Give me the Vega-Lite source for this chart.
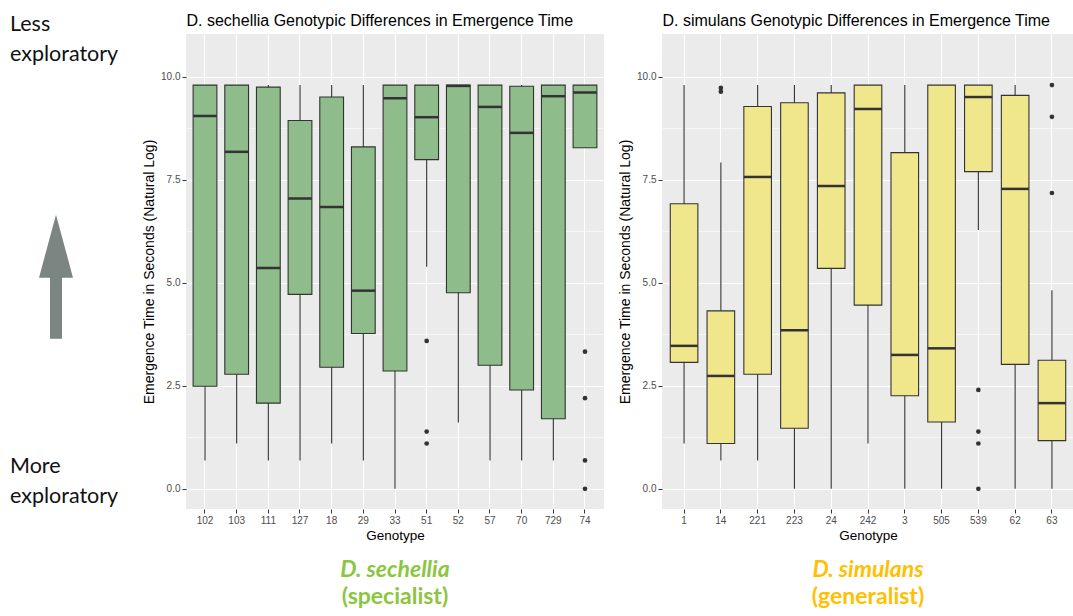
{
  "$schema": "https://vega.github.io/schema/vega-lite/v6.json",
  "background": "white",
  "padding": {"top": 12, "left": 0, "right": 0, "bottom": 0},
  "spacing": 14,
  "config": {
    "font": "Liberation Sans",
    "axis": {"labelFont": "Liberation Sans", "titleFont": "Liberation Sans"}
  },
  "datasets": {
    "sech_box": [
      {"genotype": "102", "lower": 0.69, "q1": 2.49, "median": 9.05, "q3": 9.8, "upper": 9.8},
      {"genotype": "103", "lower": 1.10, "q1": 2.78, "median": 8.18, "q3": 9.8, "upper": 9.8},
      {"genotype": "111", "lower": 0.69, "q1": 2.08, "median": 5.36, "q3": 9.75, "upper": 9.8},
      {"genotype": "127", "lower": 0.69, "q1": 4.72, "median": 7.05, "q3": 8.94, "upper": 9.8},
      {"genotype": "18", "lower": 1.10, "q1": 2.95, "median": 6.84, "q3": 9.51, "upper": 9.8},
      {"genotype": "29", "lower": 0.69, "q1": 3.77, "median": 4.81, "q3": 8.30, "upper": 9.8},
      {"genotype": "33", "lower": 0.0, "q1": 2.86, "median": 9.48, "q3": 9.8, "upper": 9.8},
      {"genotype": "51", "lower": 5.39, "q1": 7.99, "median": 9.02, "q3": 9.8, "upper": 9.8},
      {"genotype": "52", "lower": 1.61, "q1": 4.76, "median": 9.78, "q3": 9.8, "upper": 9.8},
      {"genotype": "57", "lower": 0.69, "q1": 3.00, "median": 9.27, "q3": 9.8, "upper": 9.8},
      {"genotype": "70", "lower": 0.69, "q1": 2.40, "median": 8.64, "q3": 9.77, "upper": 9.8},
      {"genotype": "729", "lower": 0.69, "q1": 1.70, "median": 9.53, "q3": 9.8, "upper": 9.8},
      {"genotype": "74", "lower": 8.28, "q1": 8.28, "median": 9.62, "q3": 9.8, "upper": 9.8}
    ],
    "sech_out": [
      {"genotype": "51", "value": 3.59},
      {"genotype": "51", "value": 1.39},
      {"genotype": "51", "value": 1.10},
      {"genotype": "74", "value": 3.33},
      {"genotype": "74", "value": 2.20},
      {"genotype": "74", "value": 0.69},
      {"genotype": "74", "value": 0.0}
    ],
    "sim_box": [
      {"genotype": "1", "lower": 1.10, "q1": 3.07, "median": 3.47, "q3": 6.92, "upper": 9.8},
      {"genotype": "14", "lower": 0.69, "q1": 1.10, "median": 2.74, "q3": 4.32, "upper": 7.92},
      {"genotype": "221", "lower": 0.69, "q1": 2.78, "median": 7.57, "q3": 9.28, "upper": 9.8},
      {"genotype": "223", "lower": 0.0, "q1": 1.47, "median": 3.85, "q3": 9.37, "upper": 9.8},
      {"genotype": "24", "lower": 0.0, "q1": 5.35, "median": 7.35, "q3": 9.61, "upper": 9.8},
      {"genotype": "242", "lower": 1.10, "q1": 4.46, "median": 9.22, "q3": 9.8, "upper": 9.8},
      {"genotype": "3", "lower": 0.0, "q1": 2.26, "median": 3.25, "q3": 8.16, "upper": 9.8},
      {"genotype": "505", "lower": 0.0, "q1": 1.62, "median": 3.41, "q3": 9.8, "upper": 9.8},
      {"genotype": "539", "lower": 6.28, "q1": 7.70, "median": 9.51, "q3": 9.8, "upper": 9.8},
      {"genotype": "62", "lower": 0.0, "q1": 3.02, "median": 7.28, "q3": 9.55, "upper": 9.8},
      {"genotype": "63", "lower": 0.0, "q1": 1.17, "median": 2.08, "q3": 3.12, "upper": 4.82}
    ],
    "sim_out": [
      {"genotype": "14", "value": 9.73},
      {"genotype": "14", "value": 9.64},
      {"genotype": "539", "value": 2.40},
      {"genotype": "539", "value": 1.39},
      {"genotype": "539", "value": 1.10},
      {"genotype": "539", "value": 0.0},
      {"genotype": "63", "value": 9.8},
      {"genotype": "63", "value": 9.03},
      {"genotype": "63", "value": 7.18}
    ],
    "annot_text": [
      {"label": "Less\nexploratory", "time": 11.26},
      {"label": "More\nexploratory", "time": 0.53}
    ],
    "annot_arrow": [
      {"direction": "less exploratory", "time": 5.15}
    ]
  },
  "hconcat": [
    {
      "width": 128,
      "height": 475,
      "view": {"stroke": null, "fill": null},
      "layer": [
        {
          "data": {"name": "annot_text"},
          "mark": {"type": "text", "align": "left", "baseline": "middle", "dx": -54, "font": "Lato", "fontSize": 21.5, "lineBreak": "\n", "lineHeight": 30, "color": "#111111"},
          "encoding": {
            "y": {"field": "time", "type": "quantitative", "scale": {"domain": [-0.49, 11.04], "nice": false, "zero": false}, "axis": null},
            "text": {"field": "label"}
          }
        },
        {
          "data": {"name": "annot_arrow"},
          "mark": {"type": "point", "filled": true, "shape": "M0,-1L0.274,0.016L0.097,0.016L0.097,1L-0.097,1L-0.097,0.016L-0.274,0.016Z", "size": 15376, "color": "#7b8581", "opacity": 1, "xOffset": -8},
          "encoding": {
            "y": {"field": "time", "type": "quantitative", "axis": null}
          }
        }
      ]
    },
    {
      "width": 418,
      "height": 475,
      "view": {"fill": "#ebebeb", "stroke": null},
      "title": {"text": "D. sechellia", "subtitle": "(specialist)", "orient": "bottom", "anchor": "middle", "frame": "group", "font": "Lato", "fontSize": 23, "fontStyle": "italic", "fontWeight": "bold", "color": "#8cc63f", "subtitleFont": "Lato", "subtitleFontSize": 23, "subtitleFontWeight": "bold", "subtitleColor": "#8cc63f", "subtitlePadding": 4, "offset": 17},
      "resolve": {"axis": {"x": "independent"}},
      "layer": [
        {
          "data": {"name": "sech_box"},
          "mark": {"type": "rule", "color": "#333333", "strokeWidth": 1.1},
          "encoding": {
            "x": {"field": "genotype", "type": "nominal", "scale": {"domain": ["102","103","111","127","18","29","33","51","52","57","70","729","74"], "paddingInner": 0, "paddingOuter": 0.1},
              "axis": {"orient": "bottom", "title": "Genotype", "labelAngle": 0, "domain": false, "grid": true, "gridColor": "white", "gridWidth": 1.1, "tickBand": "center", "tickColor": "#333333", "tickSize": 4, "labelColor": "#4d4d4d", "labelFontSize": 10, "labelPadding": 2, "titleFontSize": 13.5, "titleColor": "#000000", "titleFontWeight": "normal", "titlePadding": 3}},
            "y": {"field": "lower", "type": "quantitative", "title": "Emergence Time in Seconds (Natural Log)", "scale": {"domain": [-0.49, 11.04], "nice": false, "zero": false},
              "axis": {"values": [0, 1.25, 2.5, 3.75, 5, 6.25, 7.5, 8.75, 10], "labelExpr": "datum.value % 2.5 === 0 ? format(datum.value, '.1f') : ''", "labelOverlap": false, "labelFlush": false, "domain": false, "grid": true, "gridColor": "white", "gridWidth": {"condition": {"test": "datum.value % 2.5 !== 0", "value": 0.55}, "value": 1.1}, "tickColor": "#333333", "tickSize": 4, "tickOpacity": {"condition": {"test": "datum.value % 2.5 !== 0", "value": 0}, "value": 1}, "labelColor": "#4d4d4d", "labelFontSize": 10, "labelPadding": 2, "titleFontSize": 14, "titleColor": "#000000", "titleFontWeight": "normal", "titlePadding": 4}},
            "y2": {"field": "upper"}
          }
        },
        {
          "data": {"name": "sech_out"},
          "mark": {"type": "point", "filled": true, "color": "#333333", "size": 22, "opacity": 1},
          "encoding": {
            "x": {"field": "genotype", "type": "nominal", "axis": {"orient": "top", "title": "D. sechellia Genotypic Differences in Emergence Time", "labels": false, "ticks": false, "domain": false, "grid": false, "titleAnchor": "start", "titleFontSize": 16, "titleFontWeight": "normal", "titleColor": "#000000", "titlePadding": 6}},
            "y": {"field": "value", "type": "quantitative", "title": "Emergence Time in Seconds (Natural Log)"}
          }
        },
        {
          "data": {"name": "sech_box"},
          "mark": {"type": "bar", "width": {"band": 0.75}, "fill": "#8fbc8b", "stroke": "#333333", "strokeWidth": 1.1},
          "encoding": {
            "x": {"field": "genotype", "type": "nominal", "axis": null},
            "y": {"field": "q1", "type": "quantitative", "title": "Emergence Time in Seconds (Natural Log)"},
            "y2": {"field": "q3"}
          }
        },
        {
          "data": {"name": "sech_box"},
          "mark": {"type": "tick", "color": "#333333", "size": 23.7, "thickness": 2.5, "opacity": 1},
          "encoding": {
            "x": {"field": "genotype", "type": "nominal", "axis": null},
            "y": {"field": "median", "type": "quantitative", "title": "Emergence Time in Seconds (Natural Log)"}
          }
        }
      ]
    },
    {
      "width": 412,
      "height": 475,
      "view": {"fill": "#ebebeb", "stroke": null},
      "title": {"text": "D. simulans", "subtitle": "(generalist)", "orient": "bottom", "anchor": "middle", "frame": "group", "font": "Lato", "fontSize": 23, "fontStyle": "italic", "fontWeight": "bold", "color": "#ffc000", "subtitleFont": "Lato", "subtitleFontSize": 23, "subtitleFontWeight": "bold", "subtitleColor": "#ffc000", "subtitlePadding": 4, "offset": 17},
      "resolve": {"axis": {"x": "independent"}},
      "layer": [
        {
          "data": {"name": "sim_box"},
          "mark": {"type": "rule", "color": "#333333", "strokeWidth": 1.1},
          "encoding": {
            "x": {"field": "genotype", "type": "nominal", "scale": {"domain": ["1","14","221","223","24","242","3","505","539","62","63"], "paddingInner": 0, "paddingOuter": 0.1},
              "axis": {"orient": "bottom", "title": "Genotype", "labelAngle": 0, "domain": false, "grid": true, "gridColor": "white", "gridWidth": 1.1, "tickBand": "center", "tickColor": "#333333", "tickSize": 4, "labelColor": "#4d4d4d", "labelFontSize": 10, "labelPadding": 2, "titleFontSize": 13.5, "titleColor": "#000000", "titleFontWeight": "normal", "titlePadding": 3}},
            "y": {"field": "lower", "type": "quantitative", "title": "Emergence Time in Seconds (Natural Log)", "scale": {"domain": [-0.49, 11.04], "nice": false, "zero": false},
              "axis": {"values": [0, 1.25, 2.5, 3.75, 5, 6.25, 7.5, 8.75, 10], "labelExpr": "datum.value % 2.5 === 0 ? format(datum.value, '.1f') : ''", "labelOverlap": false, "labelFlush": false, "domain": false, "grid": true, "gridColor": "white", "gridWidth": {"condition": {"test": "datum.value % 2.5 !== 0", "value": 0.55}, "value": 1.1}, "tickColor": "#333333", "tickSize": 4, "tickOpacity": {"condition": {"test": "datum.value % 2.5 !== 0", "value": 0}, "value": 1}, "labelColor": "#4d4d4d", "labelFontSize": 10, "labelPadding": 2, "titleFontSize": 14, "titleColor": "#000000", "titleFontWeight": "normal", "titlePadding": 4}},
            "y2": {"field": "upper"}
          }
        },
        {
          "data": {"name": "sim_out"},
          "mark": {"type": "point", "filled": true, "color": "#333333", "size": 22, "opacity": 1},
          "encoding": {
            "x": {"field": "genotype", "type": "nominal", "axis": {"orient": "top", "title": "D. simulans Genotypic Differences in Emergence Time", "labels": false, "ticks": false, "domain": false, "grid": false, "titleAnchor": "start", "titleFontSize": 16, "titleFontWeight": "normal", "titleColor": "#000000", "titlePadding": 6}},
            "y": {"field": "value", "type": "quantitative", "title": "Emergence Time in Seconds (Natural Log)"}
          }
        },
        {
          "data": {"name": "sim_box"},
          "mark": {"type": "bar", "width": {"band": 0.75}, "fill": "#f0e68c", "stroke": "#333333", "strokeWidth": 1.1},
          "encoding": {
            "x": {"field": "genotype", "type": "nominal", "axis": null},
            "y": {"field": "q1", "type": "quantitative", "title": "Emergence Time in Seconds (Natural Log)"},
            "y2": {"field": "q3"}
          }
        },
        {
          "data": {"name": "sim_box"},
          "mark": {"type": "tick", "color": "#333333", "size": 27.6, "thickness": 2.5, "opacity": 1},
          "encoding": {
            "x": {"field": "genotype", "type": "nominal", "axis": null},
            "y": {"field": "median", "type": "quantitative", "title": "Emergence Time in Seconds (Natural Log)"}
          }
        }
      ]
    }
  ]
}
